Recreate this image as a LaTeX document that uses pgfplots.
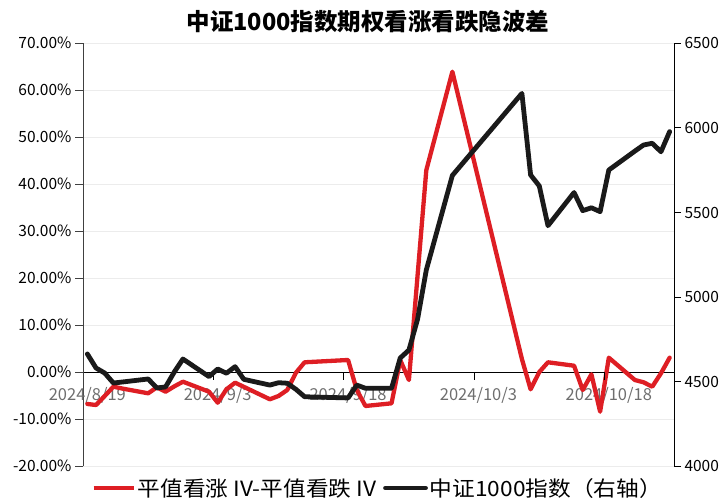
\documentclass[border=0pt]{standalone}
\usepackage{pgfplots}
\pgfplotsset{compat=1.18}
\usepackage{pgfplotstable}
\usepackage{fontspec}
\setmainfont{Noto Sans CJK SC}
\newfontfamily\legfont{Noto Sans CJK SC}[FakeStretch=1.08]
\definecolor{cred}{RGB}{222,30,36}
\definecolor{cblack}{RGB}{26,26,26}
\definecolor{cgray}{RGB}{110,110,110}
\pgfplotstableread{
d v
0 -6.74
1 -6.96
2 -5.04
3 -3.06
4 -3.45
7 -4.47
8 -3.19
9 -4.13
10 -3.0
11 -2.0
14 -4.13
15 -6.47
16 -3.62
17 -2.21
18 -3.09
21 -5.74
22 -5.04
23 -3.77
24 -0.09
25 2.13
30 2.62
31 -3.77
32 -7.17
35 -6.60
36 2.62
37 -1.64
38 20.7
39 43.0
42 63.96
50 2.83
51 -3.62
52 0.06
53 2.13
56 1.40
57 -3.77
58 -0.43
59 -8.38
60 3.11
63 -1.64
64 -2.13
65 -3.06
66 -0.21
67 3.11
}\redtab
\pgfplotstableread{
d v
0 4664
1 4581
2 4551
3 4492
4 4498
7 4516
8 4463
9 4469
10 4557
11 4634
14 4530
15 4575
16 4550
17 4589
18 4514
21 4480
22 4494
23 4491
24 4455
25 4411
30 4404
31 4480
32 4461
35 4461
36 4640
37 4687
38 4870
39 5160
42 5719
50 6204
51 5722
52 5657
53 5422
56 5618
57 5511
58 5528
59 5505
60 5751
63 5863
64 5899
65 5909
66 5859
67 5978
}\blacktab
\begin{document}
\begin{tikzpicture}[x=1pt,y=1pt]
\path[use as bounding box] (0,0) rectangle (726,503);
\node[font=\fontsize{23.5}{26}\selectfont\bfseries] at (368,481) {中证1000指数期权看涨看跌隐波差};
\begin{axis}[
  at={(83pt,36.7pt)}, anchor=south west,
  scale only axis, width=591pt, height=423pt,
  xmin=-0.5, xmax=67.5, ymin=-20, ymax=70,
  axis y line*=left, axis x line*=middle,
  x axis line style={-, black, line width=0.9pt},
  y axis line style={-, black!75, line width=0.9pt},
  xtick={0,15,30,45,60},
  xticklabels={2024/8/19,2024/9/3,2024/9/18,2024/10/3,2024/10/18},
  x tick style={draw=none},
  xticklabel style={anchor=center, yshift=-23pt, text=cgray, font=\fontsize{16.5}{19}\selectfont},
  ytick={-20,-10,...,70},
  yticklabel={\pgfmathprintnumber[fixed,fixed zerofill,precision=2]{\tick}\%},
  yticklabel style={font=\fontsize{15.5}{18}\selectfont, text=black},
  ytick align=outside, y tick style={black!75, line width=0.9pt},
  major tick length=8pt,
  /pgf/number format/assume math mode=true,
  ymajorgrids, grid style={gray!15, line width=1pt},
  clip=false,
]
\addplot[cred, line width=4.3pt, line join=round, line cap=round] table[x=d,y=v] {\redtab};
\foreach \t in {14.5,29.5,44.5,59.5}{
  \edef\tmp{\noexpand\draw[black, line width=0.9pt] (axis cs:\t,0) -- ++(0pt,-8pt);}\tmp
}
\end{axis}
\begin{axis}[
  at={(83pt,36.7pt)}, anchor=south west,
  scale only axis, width=591pt, height=423pt,
  xmin=-0.5, xmax=67.5, ymin=4000, ymax=6500,
  axis y line*=right, axis x line=none,
  y axis line style={-, black, line width=0.9pt},
  ytick={4000,4500,...,6500},
  scaled y ticks=false,
  yticklabel style={font=\fontsize{15.5}{18}\selectfont, /pgf/number format/1000 sep={}},
  ytick align=outside, y tick style={black, line width=0.9pt},
  major tick length=7pt,
  /pgf/number format/assume math mode=true,
  legend columns=2,
  legend style={at={(axis description cs:0.5,-0.0513)}, anchor=center, xshift=-1pt, draw=none, fill=none,
    font=\fontsize{21}{24}\legfont, /tikz/every even column/.append style={column sep=5pt}},
  legend cell align=left,
  legend image code/.code={\draw[#1] (0pt,0pt) -- (40pt,0pt);},
  clip=false,
]
\addlegendimage{cred, line width=4.5pt}
\addlegendentry{平值看涨 IV-平值看跌 IV}
\addplot[cblack, line width=4.8pt, line join=round, line cap=round] table[x=d,y=v] {\blacktab};
\addlegendentry{中证1000指数（右轴）}
\end{axis}
\end{tikzpicture}
\end{document}
